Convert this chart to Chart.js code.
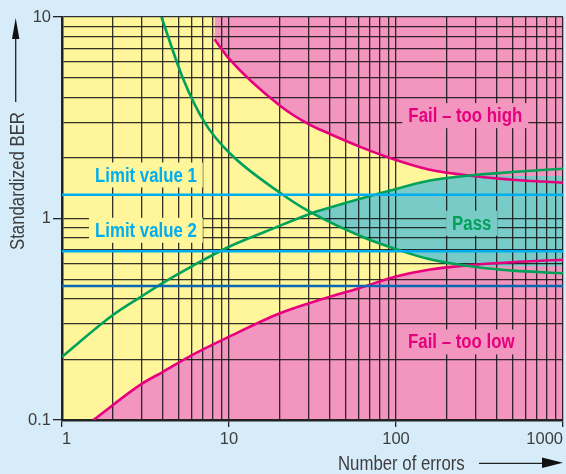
<!DOCTYPE html>
<html>
<head>
<meta charset="utf-8">
<script src="https://cdn.jsdelivr.net/npm/chart.js@4.4.0/dist/chart.umd.min.js"></script>
<style>
html,body{margin:0;padding:0;background:#d6ecf9;overflow:hidden;}
#wrap{width:566px;height:474px;position:relative;}
</style>
</head>
<body>
<div id="wrap"><canvas id="c" width="566" height="474"></canvas></div>
<script>
// ---------- data ----------
const xTickValues = [1,2,3,4,5,6,7,8,9,10,20,30,40,50,60,70,80,90,100,200,300,400,500,600,700,800,900,1000];
const xTickLabels = {1:'1',10:'10',100:'100',1000:'1000'};
const yTickValues = [0.1,0.2,0.3,0.4,0.5,0.6,0.7,0.8,0.9,1,2,3,4,5,6,7,8,9,10];
const yTickLabels = {0.1:'0.1',1:'1',10:'10'};

// green curve, falling from the top
const greenFallX = [3.94, 5.31, 7.14, 10, 20.2, 30, 65.3, 100, 157, 300, 500, 1000];
const greenFallY = [10, 4.94, 3.0, 2.125, 1.342, 1.087, 0.80, 0.705, 0.629, 0.574, 0.551, 0.535];
// green curve, rising from the left
const greenRiseX = [1, 2, 3, 4, 6.1, 10, 16.7, 31.6, 39.7, 90, 157, 300, 500, 1000];
const greenRiseY = [0.206, 0.33, 0.411, 0.478, 0.584, 0.724, 0.864, 1.066, 1.13, 1.368, 1.54, 1.644, 1.70, 1.767];
// magenta: fail too high boundary
const failHighX = [8.19, 10, 20.2, 30, 39.7, 60, 100, 157, 300, 500, 1000];
const failHighY = [7.75, 6.21, 3.63, 2.94, 2.64, 2.28, 1.95, 1.75, 1.62, 1.557, 1.505];
// magenta: fail too low boundary
const failLowX = [1.54, 3, 4, 6, 10, 20, 34.6, 60, 100, 157, 300, 500, 1000];
const failLowY = [0.1, 0.151, 0.173, 0.21, 0.259, 0.338, 0.394, 0.451, 0.515, 0.557, 0.59, 0.607, 0.624];
// pass band (teal)
const passTopX = [31.6, 39.7, 90, 157, 284, 1000];
const passTopY = [1.066, 1.13, 1.368, 1.54, 1.626, 1.626];
const passBottomX = [31.6, 65.3, 100, 157, 260, 1000];
const passBottomY = [1.066, 0.80, 0.705, 0.629, 0.58, 0.58];
// horizontal limit lines
const limitNames = ['Limit value 1', 'Limit value 2', 'Limit value 3'];
const limitValues = [1.312, 0.687, 0.463];
const xRange = [1, 1000];
const yRange = [0.1, 10];

// ---------- styles ----------
const FONT = '"Liberation Sans", Arial, sans-serif';
const C = {
  yellow:'#fff59b', pink:'#f396bf', teal:'#79cbc7', magenta:'#e6007e',
  green:'#00a25a', cyan:'#00aeef', blue:'#0b67b2', grid:'rgba(15,15,15,0.85)', text:'#3d3d3d'
};
const limitColors = [C.cyan, C.cyan, C.blue];

const pts = (xs, ys) => xs.map((x, i) => ({x, y: ys[i]}));

const lineDs = (label, data, color, extra) => Object.assign({
  label, data, borderColor: color, borderWidth: 2.6, pointRadius: 0,
  fill: false, cubicInterpolationMode: 'monotone', order: 0
}, extra || {});

const datasets = [];
limitValues.forEach((v, i) => {
  datasets.push(lineDs(limitNames[i], xRange.map(x => ({x, y: v})), limitColors[i], {borderWidth: 2.5}));
});
datasets.push(lineDs('green falling', pts(greenFallX, greenFallY), C.green));
datasets.push(lineDs('green rising', pts(greenRiseX, greenRiseY), C.green));
datasets.push(lineDs('Fail – too high', pts(failHighX, failHighY), C.magenta,
  {fill: 'end', backgroundColor: C.pink, order: 3}));
datasets.push(lineDs('Fail – too low', pts(failLowX, failLowY), C.magenta,
  {fill: 'start', backgroundColor: C.pink, order: 3}));
datasets.push(lineDs('Pass top', pts(passTopX, passTopY), 'rgba(0,0,0,0)',
  {fill: '+1', backgroundColor: C.teal, order: 2, borderWidth: 0}));
datasets.push(lineDs('Pass bottom', pts(passBottomX, passBottomY), 'rgba(0,0,0,0)',
  {order: 2, borderWidth: 0}));
datasets.push(lineDs('area', xRange.map(x => ({x, y: yRange[1]})), 'rgba(0,0,0,0)',
  {fill: 'start', backgroundColor: C.yellow, order: 4, borderWidth: 0}));

// region labels (anchor in data coordinates)
const regionLabels = [
  {text:'Limit value 1', x:3.18, y:1.644, color:C.cyan, box:C.yellow},
  {text:'Limit value 2', x:3.18, y:0.874, color:C.cyan, box:C.yellow},
  {text:'Fail – too high', x:260, y:3.24, color:C.magenta, box:C.pink},
  {text:'Pass', x:284, y:0.947, color:C.green, box:C.teal},
  {text:'Fail – too low', x:246, y:0.244, color:C.magenta, box:C.pink}
];

function condensedText(ctx, text, x, y, factor, align) {
  ctx.save();
  ctx.translate(x, y);
  ctx.scale(factor, 1);
  ctx.textAlign = align;
  ctx.fillText(text, 0, 0);
  ctx.restore();
}

const annot = {
  id: 'annot',
  beforeDatasetsDraw(chart) {
    const ctx = chart.ctx, sx = chart.scales.x, sy = chart.scales.y;
    const f = 0.84;
    ctx.save();
    ctx.font = 'bold 20px ' + FONT;
    ctx.textBaseline = 'middle';
    regionLabels.forEach(l => {
      const px = sx.getPixelForValue(l.x), py = sy.getPixelForValue(l.y);
      const w = ctx.measureText(l.text).width * f + 12;
      ctx.fillStyle = l.box;
      ctx.fillRect(px - w / 2, py - 12.5, w, 25);
      ctx.fillStyle = l.color;
      condensedText(ctx, l.text, px, py + 1, f, 'center');
    });
    ctx.restore();
  },
  afterDraw(chart) {
    const ctx = chart.ctx;
    const f = 0.86;
    ctx.save();
    ctx.fillStyle = C.text;
    ctx.strokeStyle = '#222';
    ctx.font = '19.5px ' + FONT;
    ctx.textBaseline = 'alphabetic';
    // y title (rotated)
    ctx.save();
    ctx.translate(24, 181);
    ctx.rotate(-Math.PI / 2);
    condensedText(ctx, 'Standardized BER', 0, 0, f, 'center');
    ctx.restore();
    // y arrow
    ctx.lineWidth = 1.3;
    ctx.beginPath(); ctx.moveTo(15.7, 102); ctx.lineTo(15.7, 36); ctx.stroke();
    ctx.fillStyle = '#111';
    ctx.beginPath(); ctx.moveTo(15.7, 18); ctx.lineTo(19.4, 39); ctx.lineTo(12, 39); ctx.closePath(); ctx.fill();
    // x title
    ctx.fillStyle = C.text;
    condensedText(ctx, 'Number of errors', 338, 469.5, f, 'left');
    ctx.beginPath(); ctx.moveTo(479, 463.3); ctx.lineTo(546, 463.3); ctx.stroke();
    ctx.fillStyle = '#111';
    ctx.beginPath(); ctx.moveTo(563, 462.8); ctx.lineTo(542, 457.6); ctx.lineTo(542, 468); ctx.closePath(); ctx.fill();
    ctx.restore();
  }
};

new Chart(document.getElementById('c'), {
  type: 'line',
  data: {datasets},
  plugins: [annot],
  options: {
    responsive: false,
    animation: false,
    layout: {padding: {top: 17, right: 1, left: 0, bottom: 0}},
    plugins: {
      legend: {display: false},
      tooltip: {enabled: false},
      filler: {drawTime: 'beforeDraw'}
    },
    scales: {
      x: {
        type: 'logarithmic', position: 'bottom', min: xRange[0], max: xRange[1],
        afterBuildTicks: s => { s.ticks = xTickValues.map(v => ({value: v})); },
        afterFit: s => { s.height = 54; },
        ticks: {
          callback: v => xTickLabels[v] || '', autoSkip: false, maxRotation: 0, align: 'inner',
          font: {family: FONT, size: 16.5}, color: C.text, padding: 3
        },
        grid: {
          color: C.grid, lineWidth: 1.3, tickLength: 7,
          tickColor: c => (c.tick && xTickLabels[c.tick.value]) ? '#222' : 'rgba(0,0,0,0)'
        },
        border: {color: '#222', width: 2.5}
      },
      y: {
        type: 'logarithmic', position: 'left', min: yRange[0], max: yRange[1],
        afterBuildTicks: s => { s.ticks = yTickValues.map(v => ({value: v})); },
        afterFit: s => { s.width = 62; },
        ticks: {
          callback: v => yTickLabels[v] || '', autoSkip: false,
          font: {family: FONT, size: 16.5}, color: C.text, padding: 2
        },
        grid: {
          color: C.grid, lineWidth: 1.3, tickLength: 9,
          tickColor: c => (c.tick && yTickLabels[c.tick.value]) ? '#222' : 'rgba(0,0,0,0)'
        },
        border: {color: '#222', width: 2.5}
      }
    }
  }
});
</script>
</body>
</html>
